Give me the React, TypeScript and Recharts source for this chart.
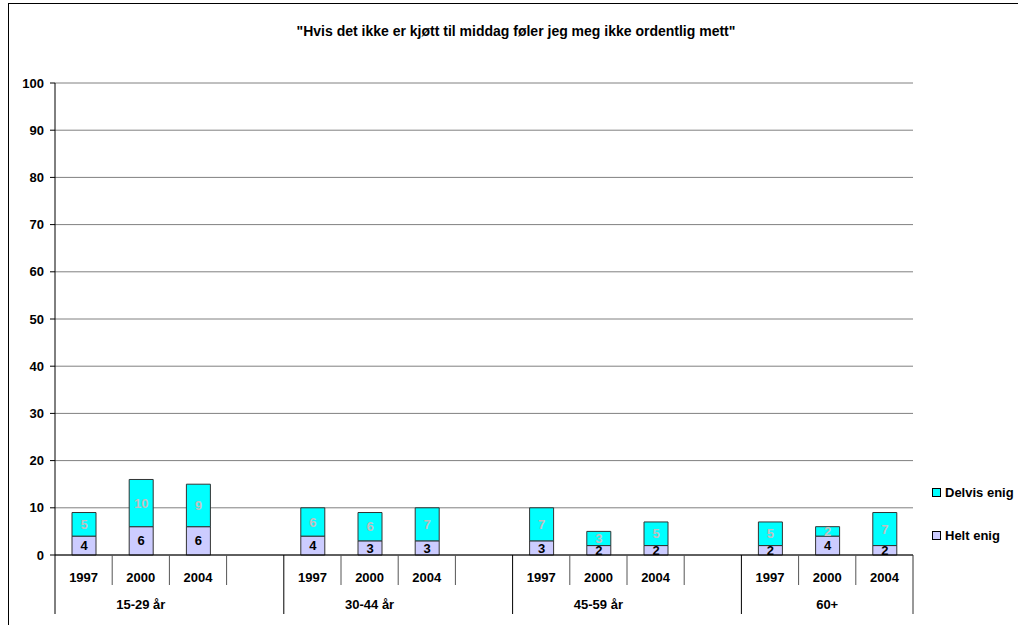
import React from 'react';
import { BarChart, Bar, XAxis, YAxis, CartesianGrid, LabelList } from 'recharts';

const title = '"Hvis det ikke er kjøtt til middag føler jeg meg ikke ordentlig mett"';

// one slot per bar; an empty slot separates the age groups
const years = ['1997', '2000', '2004', '', '1997', '2000', '2004', '', '1997', '2000', '2004', '', '1997', '2000', '2004'];
const groups = ['15-29 år', '', '', '', '30-44 år', '', '', '', '45-59 år', '', '', '', '60+', '', ''];
const heltEnig = [4, 6, 6, null, 4, 3, 3, null, 3, 2, 2, null, 2, 4, 2];
const delvisEnig = [5, 10, 9, null, 6, 6, 7, null, 7, 3, 5, null, 5, 2, 7];
const yTicks = [0, 10, 20, 30, 40, 50, 60, 70, 80, 90, 100];

const data = years.map((year, i) => ({
  key: `s${i}`,
  year,
  helt: heltEnig[i],
  delvis: delvisEnig[i],
}));

const FONT = '"Liberation Sans", Arial, sans-serif';
const FS = 13;
const CHART_W = 1009;
const CHART_H = 621;
const MARGIN = { top: 79, right: 105, left: 6, bottom: 10 };
const Y_AXIS_W = 40;
const PLOT_W = CHART_W - MARGIN.left - MARGIN.right - Y_AXIS_W;
const SLOT = PLOT_W / data.length;

const CategoryTick = (props: any) => {
  const { x, y, payload } = props;
  const i = payload.index;
  const left = x - SLOT / 2;
  const groupStart = groups[i] !== '';
  const last = i === data.length - 1;
  return (
    <g>
      <line x1={left} x2={left} y1={y} y2={y + (groupStart ? 59 : 30)} stroke={groupStart ? '#000' : '#555'} />
      {last && <line x1={left + SLOT} x2={left + SLOT} y1={y} y2={y + 59} stroke="#333" />}
      <text x={x} y={y + 27} textAnchor="middle" fontSize={FS} fontWeight="bold" fill="#000" fontFamily={FONT}>
        {years[i]}
      </text>
      {groupStart && (
        <text x={x + SLOT} y={y + 54} textAnchor="middle" fontSize={FS} fontWeight="bold" fill="#000" fontFamily={FONT}>
          {groups[i]}
        </text>
      )}
    </g>
  );
};

const legendItems = [
  { name: 'Delvis enig', color: '#00FFFF' },
  { name: 'Helt enig', color: '#CCCCFF' },
];

const App: React.FC = () => {
  return (
    <div
      style={{
        position: 'absolute',
        left: 8,
        top: 3,
        width: CHART_W,
        height: CHART_H,
        borderLeft: '1px solid #000',
        borderTop: '1px solid #000',
        fontFamily: FONT,
        background: '#fff',
      }}
    >
      <div
        style={{
          position: 'absolute',
          top: 19,
          left: 0,
          width: 1014,
          textAlign: 'center',
          fontSize: 14,
          fontWeight: 'bold',
          color: '#000',
        }}
      >
        {title}
      </div>
      <BarChart width={CHART_W} height={CHART_H} data={data} margin={MARGIN}>
        <CartesianGrid vertical={false} stroke="#808080" />
        <XAxis
          dataKey="key"
          interval={0}
          tickLine={false}
          tickSize={0}
          tickMargin={0}
          height={60}
          axisLine={{ stroke: '#000' }}
          tick={<CategoryTick />}
        />
        <YAxis
          domain={[0, 100]}
          ticks={yTicks}
          width={Y_AXIS_W}
          tickSize={5}
          tickMargin={6}
          interval={0}
          axisLine={{ stroke: '#000' }}
          tickLine={{ stroke: '#000' }}
          tick={{ fill: '#000', fontSize: FS, fontWeight: 'bold', fontFamily: FONT }}
        />
        <YAxis
          yAxisId="frame"
          orientation="right"
          domain={[0, 100]}
          width={0}
          tick={false}
          tickLine={false}
          axisLine={{ stroke: '#808080' }}
        />
        <Bar dataKey="helt" stackId="a" fill="#CCCCFF" stroke="#333" barSize={24} isAnimationActive={false}>
          <LabelList dataKey="helt" position="center" fill="#000" fontSize={FS} fontWeight="bold" fontFamily={FONT} />
        </Bar>
        <Bar dataKey="delvis" stackId="a" fill="#00FFFF" stroke="#333" barSize={24} isAnimationActive={false}>
          <LabelList dataKey="delvis" position="center" fill="#C0C0C0" fontSize={FS} fontWeight="bold" fontFamily={FONT} />
        </Bar>
      </BarChart>
      <div style={{ position: 'absolute', left: 923, top: 480 }}>
        {legendItems.map((item) => (
          <div
            key={item.name}
            style={{ display: 'flex', alignItems: 'center', height: 16, marginBottom: 27, fontSize: FS, fontWeight: 'bold', color: '#000', whiteSpace: 'nowrap' }}
          >
            <span
              style={{
                display: 'inline-block',
                width: 7,
                height: 7,
                border: '1px solid #000',
                background: item.color,
                marginRight: 4,
              }}
            />
            {item.name}
          </div>
        ))}
      </div>
    </div>
  );
};

export default App;
